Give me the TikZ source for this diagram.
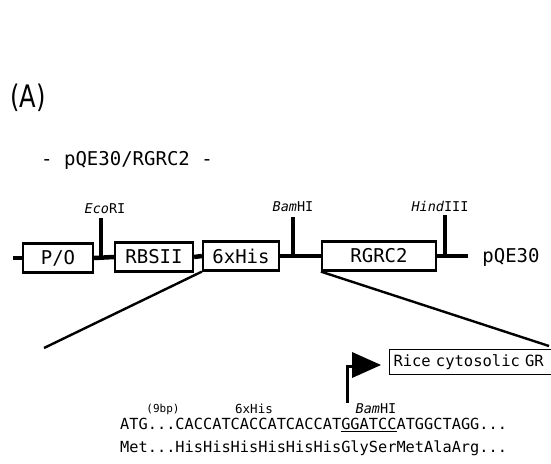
\documentclass[tikz,border=0pt]{standalone}
\usepackage{fontspec}
\setmonofont{DejaVu Sans Mono}
\newfontfamily\labfont{DejaVu Sans}
\begin{document}
\begin{tikzpicture}[x=1pt,y=-1pt,
  box/.style={draw, line width=2.2pt, minimum height=29pt, inner sep=0pt,
    font=\ttfamily\fontsize{19}{19}\selectfont},
  bb/.style={line width=4.5pt},
  tickline/.style={line width=4pt},
  site/.style={font=\ttfamily\fontsize{13.5}{13.5}\selectfont, inner sep=0pt},
  exline/.style={line width=2.4pt},
  seq/.style={font=\ttfamily\fontsize{15.3}{15.3}\selectfont, inner sep=0pt, anchor=west},
  small/.style={font=\ttfamily\fontsize{12.5}{12.5}\selectfont, inner sep=0pt}]
\useasboundingbox (0,0) rectangle (551,463);

% panel label and title
\node[inner sep=0pt] (A) at (28,98) {\scalebox{0.78}[1]{\labfont\fontsize{31}{31}\selectfont (A)}};
\node[inner sep=0pt, font=\ttfamily\fontsize{19}{19}\selectfont] (title) at (127,160) {- pQE30/RGRC2 -};

% boxes
\node[box, minimum width=70pt] (po) at (58,258) {P/O};
\node[box, minimum width=78pt] (rbs) at (154,257) {RBSII};
\node[box, minimum width=76pt] (his) at (241,256) {6xHis};
\node[box, minimum width=114pt] (rgrc) at (379,256) {RGRC2};
\node[inner sep=0pt, font=\ttfamily\fontsize{19}{19}\selectfont] (pqe) at (511,257) {pQE30};

% backbone
\coordinate (lstub) at (13,258);
\coordinate (rend) at (468,256);
\draw[bb] (lstub) -- (po.west);
\draw[bb] (po.east) -- (rbs.west);
\draw[bb] (rbs.east) -- (his.west);
\draw[bb] (his.east) -- (rgrc.west);
\draw[bb] (rgrc.east) -- (rend);

% restriction sites
\coordinate (ecobase) at (101,259);
\coordinate (ecotop) at (101,218);
\draw[tickline] (ecobase) -- (ecotop);
\node[site] (ecolab) at (105,209) {\itshape Eco\upshape RI};
\coordinate (bambase) at (293,258);
\coordinate (bamtop) at (293,217);
\draw[tickline] (bambase) -- (bamtop);
\node[site] (bamlab) at (293,207) {\itshape Bam\upshape HI};
\coordinate (hinbase) at (445,258);
\coordinate (hintop) at (445,215);
\draw[tickline] (hinbase) -- (hintop);
\node[site] (hinlab) at (440,206) {\itshape Hind\upshape III};

% expansion lines
\coordinate (expL) at (44,348);
\coordinate (expR) at (549,346);
\draw[exline] (his.south west) -- (expL);
\draw[exline] (rgrc.south west) -- (expR);

% promoter flag
\coordinate (flagbase) at (347,403);
\coordinate (flagjoin) at (354,366);
\draw[line width=3pt] (flagbase) |- (flagjoin);
\fill (352,352) -- (381,365) -- (352,378) -- cycle;
\node[draw, line width=1pt, anchor=west, minimum height=25pt, minimum width=168pt,
  inner sep=3pt, text width=160pt, align=left,
  font=\ttfamily\fontsize{15.5}{15.5}\selectfont] (rice) at (389,362) {Rice cytosolic GR};

% sequence
\node[font=\ttfamily\fontsize{11}{11}\selectfont, inner sep=0pt] (bp) at (163,409) {(9bp)};
\node[small] (hislab) at (254,409) {6xHis};
\node[site] (bamlab2) at (376,409) {\itshape Bam\upshape HI};
\node[seq] (dna) at (120,425) {ATG...CACCATCACCATCACCAT\underline{GGATCC}ATGGCTAGG...};
\node[seq] (prot) at (120,448) {Met...HisHisHisHisHisHisGlySerMetAlaArg...};
\end{tikzpicture}
\end{document}
